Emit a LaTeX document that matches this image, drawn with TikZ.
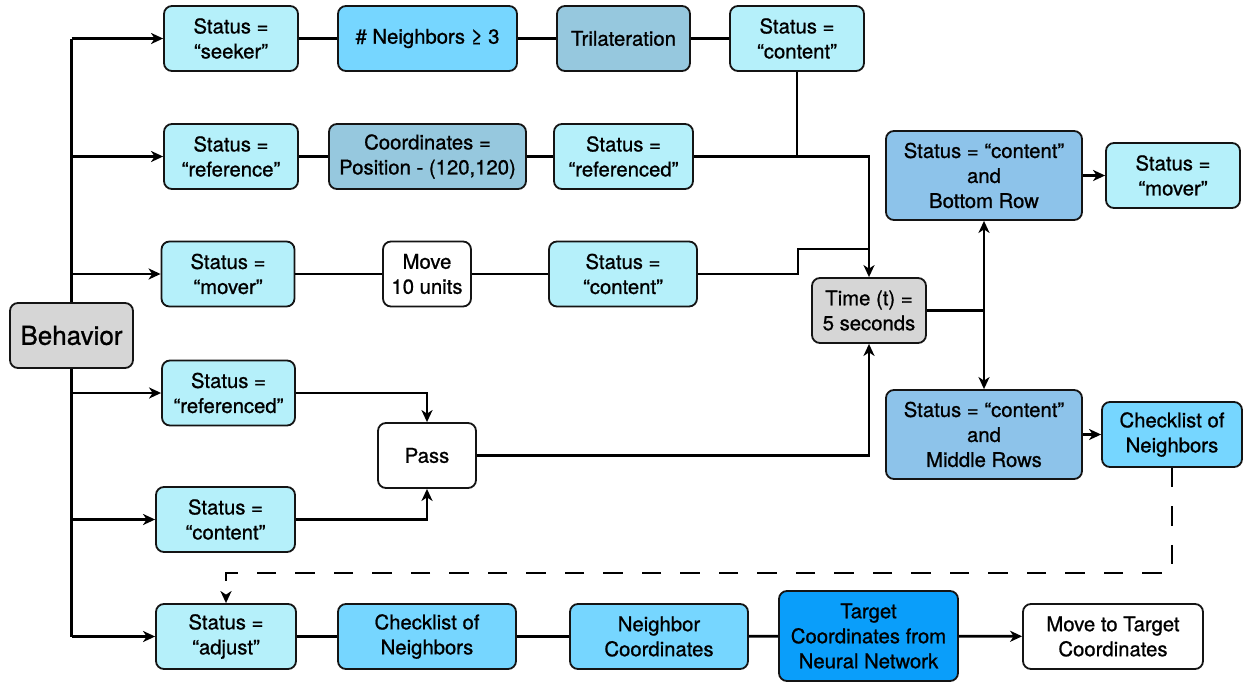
\documentclass[tikz,border=0pt]{standalone}
\usepackage{fontspec}
\setmainfont{TeX Gyre Heros}[UprightFeatures={FakeBold=0.9}]
\usetikzlibrary{arrows.meta}
\definecolor{paleblue}{RGB}{181,240,250}
\definecolor{skyblue}{RGB}{118,214,255}
\definecolor{steelblue}{RGB}{150,200,222}
\definecolor{midblue}{RGB}{141,195,234}
\definecolor{deepblue}{RGB}{10,158,250}
\definecolor{softgray}{RGB}{214,214,214}
\definecolor{edge}{RGB}{20,20,20}
\tikzset{
  box/.style={draw=edge, line width=1.8pt, rounded corners=8pt, align=center,
    inner sep=0pt, minimum height=65pt,
    font=\fontsize{20.3}{25}\selectfont},
  pale/.style={box, fill=paleblue},
  sky/.style={box, fill=skyblue},
  steel/.style={box, fill=steelblue},
  mid/.style={box, fill=midblue, minimum height=89pt},
  deep/.style={box, fill=deepblue, minimum height=90pt},
  grey/.style={box, fill=softgray},
  plain/.style={box, fill=white},
  wire/.style={line width=2.8pt, draw=black},
  arr/.style={wire, -{Stealth[length=12pt, width=11pt, inset=3.5pt]}},
  dashwire/.style={arr, dash pattern=on 19.5pt off 19pt},
}
\begin{document}
\begin{tikzpicture}[x=1pt, y=-1pt]
\useasboundingbox (0,0) rectangle (1243,683);

% root
\node[grey, minimum width=123pt, font=\fontsize{26}{30}\selectfont] (behavior) at (71.5,335.5) {Behavior};

% seeker row
\node[pale, minimum width=134pt] (seeker) at (231,38.5) {Status =\\“seeker”};
\node[sky, minimum width=179pt] (count) at (427.5,38.5) {\# Neighbors ≥ 3};
\node[steel, minimum width=133pt] (trilat) at (623.5,38.5) {Trilateration};
\node[pale, minimum width=134pt] (contentA) at (797,38.5) {Status =\\“content”};

% reference row
\node[pale, minimum width=134pt] (reference) at (231,156.5) {Status =\\“reference”};
\node[steel, minimum width=197pt] (offset) at (427.5,156.5) {Coordinates =\\Position - (120,120)};
\node[pale, minimum width=139pt] (referencedA) at (623.5,156.5) {Status =\\“referenced”};

% mover row
\node[pale, minimum width=133pt] (mover) at (228,274) {Status =\\“mover”};
\node[plain, minimum width=88pt] (step10) at (427,274) {Move\\10 units};
\node[pale, minimum width=148pt] (contentB) at (623,274) {Status =\\“content”};

% waiting branch
\node[pale, minimum width=133pt] (referencedB) at (228.5,393) {Status =\\“referenced”};
\node[pale, minimum width=139pt] (contentC) at (225.5,519.5) {Status =\\“content”};
\node[plain, minimum width=98pt] (pass) at (427,455.5) {Pass};

% timer and its outcomes
\node[grey, minimum width=114pt] (timer) at (869,310.5) {Time (t) =\\5 seconds};
\node[mid, minimum width=196pt] (bottom) at (984,175.5) {Status = “content”\\and\\Bottom Row};
\node[pale, minimum width=134pt] (moverB) at (1173,175.5) {Status =\\“mover”};
\node[mid, minimum width=196pt] (middle) at (984,434.5) {Status = “content”\\and\\Middle Rows};
\node[sky, minimum width=140pt] (checkA) at (1172,434.5) {Checklist of\\Neighbors};

% adjust row
\node[pale, minimum width=140pt] (adjust) at (226,636.5) {Status =\\“adjust”};
\node[sky, minimum width=178pt] (checkB) at (427,636.5) {Checklist of\\Neighbors};
\node[sky, minimum width=178pt] (neighbor) at (659,636.5) {Neighbor\\Coordinates};
\node[deep, minimum width=179pt] (target) at (868.5,636) {Target\\Coordinates from\\Neural Network};
\node[plain, minimum width=180pt] (goal) at (1113,636.5) {Move to Target\\Coordinates};

% trunk from the root
\draw[wire] (behavior.north) -- (behavior.north |- seeker.west);
\draw[wire] (behavior.south) -- (behavior.south |- adjust.west);
\foreach \n in {seeker, reference, mover, referencedB, contentC, adjust}
  \draw[arr] (behavior.north |- \n.west) -- (\n.west);

% seeker row
\draw[wire] (seeker) -- (count);
\draw[wire] (count) -- (trilat);
\draw[wire] (trilat) -- (contentA);
\draw[wire] (contentA.south) -- (contentA.south |- referencedA.east);

% reference row
\draw[wire] (reference) -- (offset);
\draw[wire] (offset) -- (referencedA);
\draw[arr] (referencedA.east) -| (timer.north);

% mover row
\coordinate (jog) at (798,249);
\draw[wire] (mover) -- (step10);
\draw[wire] (step10) -- (contentB);
\draw[wire] (contentB.east) -| (jog) -- (jog -| timer.north);

% pass
\draw[arr] (referencedB.east) -| (pass.north);
\draw[arr] (contentC.east) -| (pass.south);
\draw[arr] (pass.east) -| (timer.south);

% timer split
\coordinate (split) at (timer.east -| bottom.south);
\draw[wire] (timer.east) -- (split);
\draw[arr] (split) -- (bottom.south);
\draw[arr] (split) -- (middle.north);
\draw[arr] (bottom) -- (moverB);
\draw[arr] (middle) -- (checkA);

% dashed feedback
\coordinate (dashrow) at (0,573);
\draw[dashwire] (checkA.south) -- (checkA.south |- dashrow) -| (adjust.north);

% adjust row
\draw[wire] (adjust) -- (checkB);
\draw[wire] (checkB) -- (neighbor);
\draw[wire] (neighbor) -- (target);
\draw[arr] (target) -- (goal);
\end{tikzpicture}
\end{document}
